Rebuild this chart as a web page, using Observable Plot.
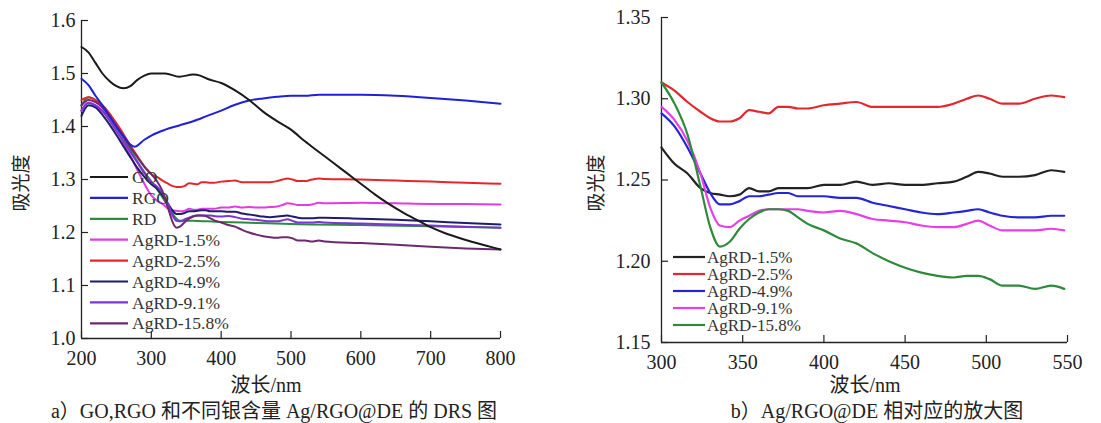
<!DOCTYPE html>
<html>
<head>
<meta charset="utf-8">
<script src="https://cdn.jsdelivr.net/npm/d3@7"></script>
<script src="https://cdn.jsdelivr.net/npm/@observablehq/plot@0.6"></script>
<style>
  body { margin: 0; background: #fff; }
  #wrap { position: relative; width: 1101px; height: 423px; overflow: hidden; background: #fff; }
  #wrap svg { position: absolute; top: 0; overflow: visible; }
  .t { position: absolute; white-space: nowrap; color: #222; line-height: 1;
       font-family: "Liberation Serif", "Noto Sans CJK SC", serif; transform: translate(-50%, -50%); }
  .ylab { transform: translate(-50%, -50%) rotate(-90deg); font-size: 19px; }
  .xlab { font-size: 20px; }
  .cap { font-size: 20px; }
</style>
</head>
<body>
<div id="wrap">
  <div class="t ylab" style="left:21px;top:183px">吸光度</div>
  <div class="t xlab" style="left:266px;top:385px">波长/nm</div>
  <div class="t cap" style="left:274px;top:411px">a）GO,RGO 和不同银含量 Ag/RGO@DE 的 DRS 图</div>
  <div class="t ylab" style="left:596px;top:183px">吸光度</div>
  <div class="t xlab" style="left:865px;top:385px">波长/nm</div>
  <div class="t cap" style="left:877px;top:411px">b）Ag/RGO@DE 相对应的放大图</div>
</div>
<script>
// Wavelength (nm) grids and absorbance readings
const goWl  = [200,210,220,230,240,250,260,270,280,290,300,320,340,360,370,380,400,420,440,460,480,500,520,540,560,580,600,620,640,660,680,700,720,740,760,780,800];
const goAbs = [1.550,1.540,1.520,1.500,1.486,1.476,1.472,1.476,1.488,1.496,1.500,1.500,1.494,1.498,1.496,1.490,1.482,1.468,1.450,1.428,1.410,1.394,1.372,1.352,1.332,1.312,1.292,1.272,1.254,1.238,1.224,1.210,1.199,1.190,1.182,1.175,1.168];

const rgoWl  = [200,210,220,230,240,250,260,270,276,290,300,320,340,360,380,400,420,440,460,480,500,520,540,560,600,650,700,750,800];
const rgoAbs = [1.490,1.478,1.458,1.440,1.420,1.400,1.382,1.366,1.362,1.375,1.383,1.394,1.402,1.410,1.420,1.430,1.441,1.449,1.453,1.456,1.458,1.458,1.460,1.460,1.460,1.458,1.454,1.449,1.443];

const rdWl  = [200,210,220,230,240,250,260,270,280,290,300,310,320,330,336,342,350,360,380,400,450,500,600,700,800];
const rdAbs = [1.440,1.455,1.450,1.436,1.418,1.398,1.378,1.356,1.334,1.314,1.296,1.278,1.258,1.236,1.226,1.222,1.222,1.222,1.221,1.220,1.218,1.216,1.214,1.212,1.209];

// Shared grid for the Ag-loaded samples
const agWl = [200,210,220,230,240,250,260,270,280,290,300,308,316,324,330,336,342,348,354,360,366,372,378,384,390,400,410,420,430,440,450,460,470,480,488,495,502,510,520,530,540,548,600,650,700,750,800];
const ag15  = [1.430,1.445,1.440,1.428,1.412,1.392,1.370,1.345,1.318,1.292,1.270,1.260,1.254,1.245,1.242,1.241,1.240,1.241,1.245,1.243,1.243,1.245,1.245,1.245,1.245,1.247,1.247,1.249,1.247,1.248,1.247,1.247,1.248,1.249,1.252,1.255,1.254,1.252,1.252,1.253,1.256,1.255,1.256,1.255,1.254,1.254,1.253];
const ag25  = [1.450,1.455,1.450,1.440,1.425,1.406,1.386,1.364,1.344,1.325,1.310,1.305,1.298,1.292,1.288,1.286,1.286,1.288,1.293,1.292,1.291,1.295,1.295,1.294,1.294,1.296,1.297,1.298,1.295,1.295,1.295,1.295,1.295,1.297,1.300,1.302,1.300,1.297,1.297,1.300,1.302,1.301,1.300,1.298,1.296,1.294,1.292];
const ag49  = [1.420,1.440,1.436,1.422,1.404,1.384,1.363,1.342,1.322,1.305,1.291,1.283,1.270,1.254,1.242,1.235,1.235,1.237,1.240,1.240,1.241,1.242,1.242,1.240,1.240,1.240,1.239,1.239,1.236,1.234,1.232,1.230,1.229,1.230,1.231,1.232,1.230,1.228,1.227,1.227,1.228,1.228,1.226,1.224,1.221,1.218,1.215];
const ag91  = [1.430,1.445,1.440,1.430,1.412,1.392,1.372,1.352,1.332,1.312,1.295,1.287,1.274,1.254,1.233,1.222,1.221,1.225,1.228,1.231,1.232,1.232,1.232,1.232,1.231,1.230,1.231,1.229,1.226,1.225,1.224,1.222,1.221,1.221,1.223,1.225,1.222,1.219,1.219,1.219,1.220,1.219,1.217,1.215,1.213,1.211,1.209];
const ag158 = [1.440,1.450,1.446,1.436,1.420,1.401,1.381,1.361,1.342,1.324,1.310,1.297,1.278,1.246,1.221,1.209,1.212,1.220,1.226,1.230,1.232,1.232,1.231,1.227,1.223,1.219,1.214,1.211,1.205,1.200,1.196,1.193,1.191,1.190,1.191,1.191,1.189,1.185,1.185,1.183,1.185,1.183,1.180,1.177,1.173,1.170,1.168];

// Series names, colours and tick values
const leftNames   = ["GO","RGO","RD","AgRD-1.5%","AgRD-2.5%","AgRD-4.9%","AgRD-9.1%","AgRD-15.8%"];
const leftColors  = ["#1a1a1a","#2020d8","#2e8b3e","#e23be0","#e5262a","#1d1d6b","#7b35d6","#6b2b6e"];
const rightNames  = ["AgRD-1.5%","AgRD-2.5%","AgRD-4.9%","AgRD-9.1%","AgRD-15.8%"];
const rightColors = ["#222222","#e0282e","#2424d8","#e83ee8","#2d8a3a"];
const xTicksA = [200,300,400,500,600,700,800];
const yTicksA = [1.0,1.1,1.2,1.3,1.4,1.5,1.6];
const xTicksB = [300,350,400,450,500,550];
const yTicksB = [1.15,1.20,1.25,1.30,1.35];

const rows = (name, xs, ys) => xs.map((x, i) => ({series: name, wl: x, abs: ys[i]}));
const agRows = [
  rows("AgRD-1.5%", agWl, ag15), rows("AgRD-2.5%", agWl, ag25), rows("AgRD-4.9%", agWl, ag49),
  rows("AgRD-9.1%", agWl, ag91), rows("AgRD-15.8%", agWl, ag158)
].flat();
const leftData = [
  ...rows("RD", rdWl, rdAbs), ...agRows, ...rows("RGO", rgoWl, rgoAbs), ...rows("GO", goWl, goAbs)
];
const rightData = agRows.filter(d => d.wl >= xTicksB[0] && d.wl <= 548);

const font = '"Liberation Serif", "Noto Sans CJK SC", serif';

function panel({data, names, colors, xTicks, yTicks, yFmt, width, height, margins, yPad, strokeWidth}) {
  return Plot.plot({
    width, height, ...margins,
    style: {fontFamily: font, fontSize: "20px", color: "#222", background: "transparent", overflow: "visible"},
    x: {domain: [xTicks[0], xTicks[xTicks.length - 1]], label: null},
    y: {domain: [yTicks[0], yTicks[yTicks.length - 1]], label: null},
    color: {domain: names, range: colors},
    marks: [
      Plot.axisX({ticks: xTicks, tickSize: -7, tickPadding: 19, tickFormat: d3.format("d"), fontFamily: font, fontSize: 20, stroke: "#222", strokeWidth: 1.2, label: null}),
      Plot.axisY({ticks: yTicks, tickSize: -7, tickPadding: yPad, tickFormat: d3.format(yFmt), fontFamily: font, fontSize: 20, stroke: "#222", strokeWidth: 1.2, label: null}),
      Plot.ruleX([xTicks[0]], {stroke: "#222", strokeWidth: 1.3}),
      Plot.ruleY([yTicks[0]], {stroke: "#222", strokeWidth: 1.3}),
      Plot.line(data, {x: "wl", y: "abs", z: "series", stroke: "series", strokeWidth, curve: "monotone-x"})
    ]
  });
}

function legend(svg, names, colors, {x1, x2, tx, y0, step, size}) {
  const g = d3.select(svg).append("g")
    .attr("font-family", font).attr("font-size", size).attr("text-anchor", "start");
  names.forEach((n, i) => {
    const y = y0 + i * step;
    g.append("line").attr("x1", x1).attr("x2", x2).attr("y1", y).attr("y2", y)
      .attr("stroke", colors[i]).attr("stroke-width", 2.2);
    g.append("text").attr("x", tx).attr("y", y).attr("dy", "0.35em")
      .attr("text-anchor", "start").attr("fill", "#333").text(n);
  });
}

const wrap = document.getElementById("wrap");

const left = panel({
  data: leftData, names: leftNames, colors: leftColors, xTicks: xTicksA, yTicks: yTicksA, yFmt: ".1f",
  width: 540, height: 398, margins: {marginLeft: 81, marginRight: 40, marginTop: 20, marginBottom: 60},
  yPad: 13, strokeWidth: 2
});
left.style.left = "0px";
legend(left, leftNames, leftColors, {x1: 90, x2: 128, tx: 132, y0: 177, step: 20.9, size: 17.5});
wrap.appendChild(left);

const right = panel({
  data: rightData, names: rightNames, colors: rightColors, xTicks: xTicksB, yTicks: yTicksB, yFmt: ".2f",
  width: 541, height: 402, margins: {marginLeft: 101, marginRight: 34, marginTop: 17, marginBottom: 60},
  yPad: 18, strokeWidth: 2.2
});
right.style.left = "560px";
legend(right, rightNames, rightColors, {x1: 113, x2: 145, tx: 147, y0: 257, step: 17, size: 17});
wrap.appendChild(right);
</script>
</body>
</html>
